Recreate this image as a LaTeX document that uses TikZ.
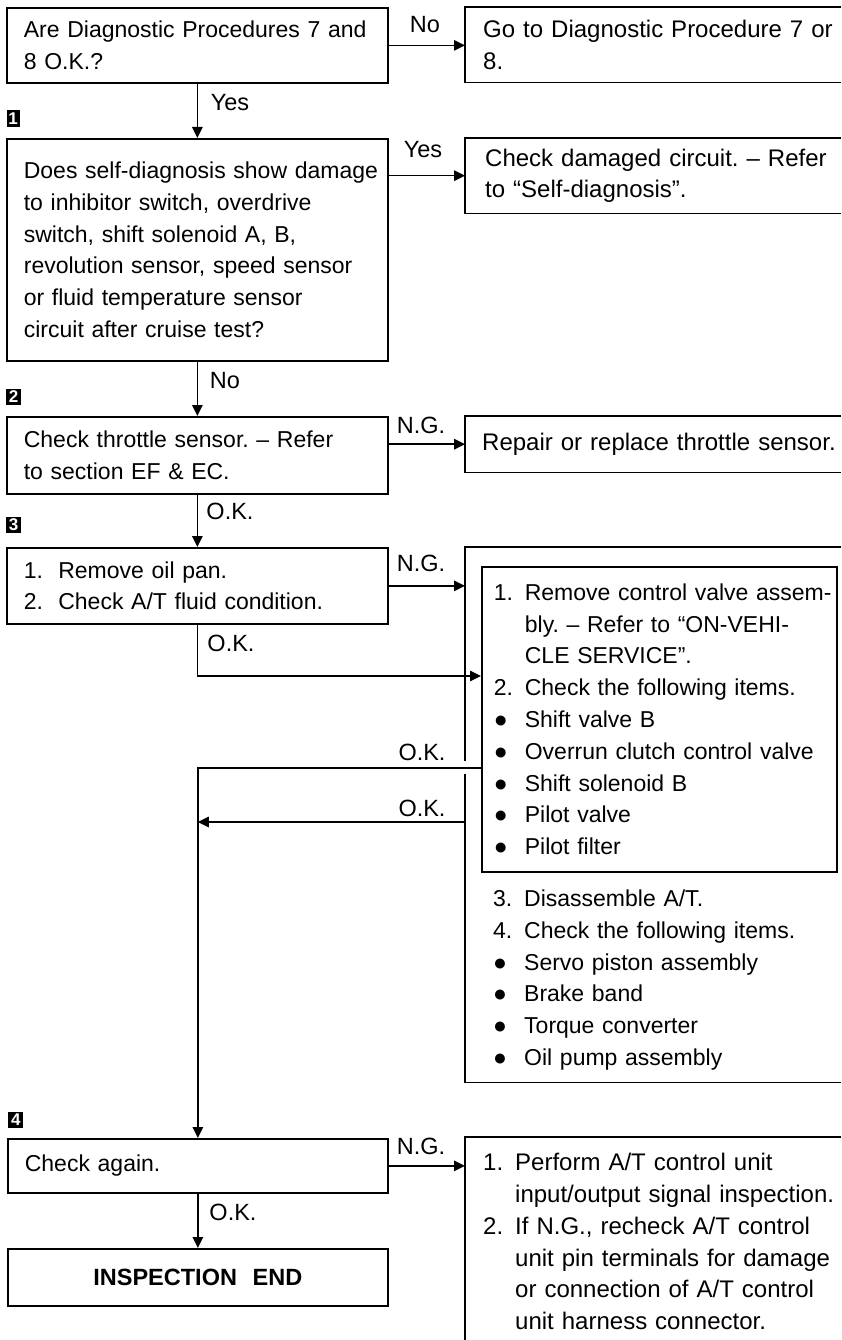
\documentclass[tikz,border=0pt]{standalone}
\usepackage{fontspec}
\setmainfont{Liberation Sans}
\usetikzlibrary{arrows.meta}
\frenchspacing
\begin{document}
\begin{tikzpicture}[x=1pt,y=-1pt,
  bl/.style={line width=1.7pt},
  lbox/.style={draw,line width=1.7pt,anchor=north west,inner xsep=17pt,inner ysep=0pt,align=left,font=\fontsize{23}{31.8}\selectfont},
  rbox/.style={anchor=north west,inner xsep=18pt,inner ysep=0pt,align=left,font=\fontsize{24}{31.8}\selectfont},
  lab/.style={font=\fontsize{23.5}{28}\selectfont,inner sep=0pt},
  arr/.style={line width=1.5pt,-{Triangle[length=11pt,width=10.5pt]}},
  ln/.style={line width=1.5pt},
  mk/.style={fill=black,text=white,font=\bfseries\fontsize{17}{17}\selectfont,minimum width=15pt,minimum height=16pt,inner sep=0pt}
]
\useasboundingbox (0,0) rectangle (841,1340);
\newcommand{\nm}[1]{\makebox[31pt][l]{#1}}
\newcommand{\ind}{\hspace*{31pt}}

% left column boxes
\node[lbox,minimum width=381pt,minimum height=75pt,text width=347pt] (A) at (6,7)
  {\mbox{Are Diagnostic Procedures 7 and}\\\mbox{8 O.K.?}};
\node[lbox,minimum width=381pt,minimum height=222pt,text width=347pt] (C) at (6,138)
  {\mbox{Does self-diagnosis show damage}\\\mbox{to inhibitor switch, overdrive}\\\mbox{switch, shift solenoid A, B,}\\\mbox{revolution sensor, speed sensor}\\\mbox{or fluid temperature sensor}\\\mbox{circuit after cruise test?}};
\node[lbox,minimum width=381pt,minimum height=77pt,text width=347pt] (E) at (6,416)
  {\mbox{Check throttle sensor. -- Refer}\\\mbox{to section EF \& EC.}};
\node[lbox,minimum width=381pt,minimum height=76pt,text width=347pt] (G) at (6,547)
  {\mbox{1.\ \ Remove oil pan.}\\\mbox{2.\ \ Check A/T fluid condition.}};
\node[lbox,minimum width=380pt,minimum height=54pt,text width=346pt] (J) at (7,1138)
  {\mbox{Check again.}};
\node[lbox,minimum width=380pt,minimum height=57pt,text width=346pt,align=center,font=\bfseries\fontsize{23.5}{28}\selectfont] (L) at (7,1248)
  {INSPECTION\ \ END};

% right column boxes (open on the right)
\node[rbox,minimum width=376pt,minimum height=75pt,text width=340pt] (B) at (465,7)
  {\mbox{Go to Diagnostic Procedure 7 or}\\\mbox{8.}};
\draw[bl] (B.north east) -- (B.north west) -- (B.south west) -- (B.south east);
\node[rbox,minimum width=376pt,minimum height=75pt,inner xsep=20pt,text width=336pt] (D) at (465,138)
  {\mbox{Check damaged circuit. -- Refer}\\\mbox{to ``Self-diagnosis''.}};
\draw[bl] (D.north east) -- (D.north west) -- (D.south west) -- (D.south east);
\node[rbox,minimum width=376pt,minimum height=56pt,inner xsep=17pt,text width=342pt] (F) at (465,416)
  {\mbox{Repair or replace throttle sensor.}};
\draw[bl] (F.north east) -- (F.north west) -- (F.south west) -- (F.south east);

% outer box H with inner box I
\node[anchor=north west,inner sep=0pt,minimum width=376pt,minimum height=535pt] (H) at (465,547) {};
\coordinate (g1) at (0,761);
\coordinate (g2) at (0,774);
\draw[bl] (H.north east) -- (H.north west) -- (H.west |- g1);
\draw[bl] (H.west |- g2) -- (H.south west) -- (H.south east);
\node[rbox,draw,line width=1.7pt,inner xsep=12pt,minimum width=355pt,minimum height=305pt,text width=331pt,font=\fontsize{23}{31.8}\selectfont] (I) at (481,566)
  {\mbox{\nm{1.}Remove control valve assem-}\\
   \mbox{\ind bly. -- Refer to ``ON-VEHI-}\\
   \mbox{\ind CLE SERVICE''.}\\
   \mbox{\nm{2.}Check the following items.}\\
   \mbox{\nm{●}Shift valve B}\\
   \mbox{\nm{●}Overrun clutch control valve}\\
   \mbox{\nm{●}Shift solenoid B}\\
   \mbox{\nm{●}Pilot valve}\\
   \mbox{\nm{●}Pilot filter}};
\node[rbox,anchor=west,inner xsep=12pt,text width=331pt,font=\fontsize{23}{31.8}\selectfont] (It) at (481,980)
  {\mbox{\nm{3.}Disassemble A/T.}\\
   \mbox{\nm{4.}Check the following items.}\\
   \mbox{\nm{●}Servo piston assembly}\\
   \mbox{\nm{●}Brake band}\\
   \mbox{\nm{●}Torque converter}\\
   \mbox{\nm{●}Oil pump assembly}};

% box K, open right and bottom
\node[rbox,inner ysep=16pt,text width=340pt] (K) at (465,1137)
  {\mbox{\makebox[32pt][l]{1.}Perform A/T control unit}\\
   \mbox{\hspace*{32pt}input/output signal inspection.}\\
   \mbox{\makebox[32pt][l]{2.}If N.G., recheck A/T control}\\
   \mbox{\hspace*{32pt}unit pin terminals for damage}\\
   \mbox{\hspace*{32pt}or connection of A/T control}\\
   \mbox{\hspace*{32pt}unit harness connector.}};
\coordinate (kb) at (0,1340);
\draw[bl] (K.north east) -- (K.north west) -- (K.west |- kb);

% step markers
\node[mk,minimum width=13pt,minimum height=17pt] (m1) at (13,119) {1};
\node[mk] (m2) at (13.5,397) {2};
\node[mk] (m3) at (13.5,525) {3};
\node[mk] (m4) at (15.8,1120) {4};

% connectors
\draw[arr] (A.east) -- (A.east -| B.west);
\draw[arr] (A.south) -- (C.north);
\draw[arr] (C.east |- D.west) -- (D.west);
\draw[arr] (C.south) -- (E.north);
\draw[arr] (E.east |- F.west) -- (F.west);
\draw[arr] (E.south) -- (G.north);
\draw[arr] (G.east) -- (G.east -| H.west);
\coordinate (yI) at (0,676);
\draw[arr] (G.south) |- (I.west |- yI);
\coordinate (yO) at (0,768);
\draw[arr] (I.west |- yO) -| (J.north);
\coordinate (yK) at (0,822);
\draw[arr] (H.west |- yK) -- (J.north |- yK);
\draw[arr] (J.east) -- (J.east -| K.west);
\draw[arr] (J.south) -- (L.north);

% connector labels
\node[lab] (lNo1) at (425,25) {No};
\node[lab] (lYes1) at (230,103) {Yes};
\node[lab] (lYes2) at (423,150) {Yes};
\node[lab] (lNo2) at (225,381) {No};
\node[lab] (lNG1) at (421,425) {N.G.};
\node[lab] (lOK1) at (230,511) {O.K.};
\node[lab] (lNG2) at (421,563) {N.G.};
\node[lab] (lOK2) at (231,643) {O.K.};
\node[lab] (lOK3) at (422,752) {O.K.};
\node[lab] (lOK4) at (422,808) {O.K.};
\node[lab] (lNG3) at (421,1146) {N.G.};
\node[lab] (lOK5) at (233,1212) {O.K.};
\end{tikzpicture}
\end{document}
